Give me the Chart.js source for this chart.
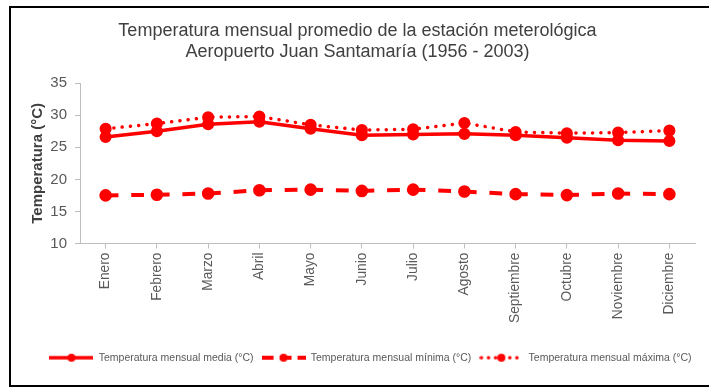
<!DOCTYPE html>
<html>
<head>
<meta charset="utf-8">
<script src="https://cdn.jsdelivr.net/npm/chart.js@4.4.1/dist/chart.umd.min.js"></script>
<style>
  html, body { margin: 0; padding: 0; background: #fff; }
  #wrap { width: 709px; height: 388px; }
</style>
</head>
<body>
<div id="wrap"><canvas id="chart" width="709" height="388"></canvas></div>
<script>
// Monthly temperatures, Juan Santamaría airport station (1956 - 2003)
const months = ['Enero', 'Febrero', 'Marzo', 'Abril', 'Mayo', 'Junio', 'Julio',
  'Agosto', 'Septiembre', 'Octubre', 'Noviembre', 'Diciembre'];
const tempMedia = [26.6, 27.5, 28.6, 29.0, 27.9, 26.9, 27.0, 27.1, 26.9, 26.5, 26.1, 26.0];
const tempMinima = [17.5, 17.6, 17.8, 18.3, 18.4, 18.2, 18.4, 18.1, 17.7, 17.55, 17.8, 17.7];
const tempMaxima = [27.9, 28.7, 29.7, 29.8, 28.5, 27.7, 27.8, 28.8, 27.4, 27.2, 27.3, 27.6];
const seriesLabels = ['Temperatura mensual media (°C)', 'Temperatura mensual mínima (°C)',
  'Temperatura mensual máxima (°C)'];

const RED = '#FF0000';
const GREY = '#595959';
const FONT = "'Liberation Sans', Arial, sans-serif";

// small canvas used as legend symbol: line sample with a marker in the middle
function legendIcon(dash, cap, width) {
  const c = document.createElement('canvas');
  c.width = 44; c.height = 12;
  const g = c.getContext('2d');
  g.strokeStyle = RED;
  g.lineWidth = width;
  g.lineCap = cap;
  g.setLineDash(dash);
  g.beginPath();
  g.moveTo(cap === 'round' ? 2 : 0, 6);
  g.lineTo(44, 6);
  g.stroke();
  g.fillStyle = RED;
  g.beginPath();
  g.arc(22, 6, 4, 0, Math.PI * 2);
  g.fill();
  return c;
}
const icons = [
  legendIcon([], 'butt', 3.5),
  legendIcon([12, 6], 'butt', 4),
  legendIcon([0.1, 7], 'round', 3.5)
];

const frame = {
  id: 'frame',
  afterLayout(chart) {
    // legend sits a bit right of centre in the original
    chart.legend.left += 13;
    chart.legend.right += 13;
  },
  beforeDraw(chart) {
    const ctx = chart.ctx;
    ctx.save();
    ctx.fillStyle = '#fff';
    ctx.fillRect(0, 0, chart.width, chart.height);
    ctx.strokeStyle = '#000';
    ctx.lineWidth = 2;
    ctx.strokeRect(10, 7, 720, 379);
    ctx.restore();
  }
};

const ctx = document.getElementById('chart').getContext('2d');
new Chart(ctx, {
  type: 'line',
  data: {
    labels: months,
    datasets: [
      {
        label: seriesLabels[0], data: tempMedia,
        borderColor: RED, backgroundColor: RED, borderWidth: 3.5,
        pointRadius: 4.3, pointBackgroundColor: RED, pointBorderColor: RED
      },
      {
        label: seriesLabels[1], data: tempMinima,
        borderColor: RED, backgroundColor: RED, borderWidth: 4, borderDash: [12.8, 12.8],
        pointRadius: 4.3, pointBackgroundColor: RED, pointBorderColor: RED
      },
      {
        label: seriesLabels[2], data: tempMaxima,
        borderColor: RED, backgroundColor: RED, borderWidth: 3.5,
        borderDash: [0.1, 8.2], borderCapStyle: 'round',
        pointRadius: 4.3, pointBackgroundColor: RED, pointBorderColor: RED
      }
    ]
  },
  options: {
    responsive: false,
    animation: false,
    layout: { padding: { left: 20, right: 14, top: 0, bottom: 15 } },
    plugins: {
      title: {
        display: true,
        text: ['Temperatura mensual promedio de la estación meterológica',
          'Aeropuerto Juan Santamaría (1956 - 2003)'],
        color: '#404040',
        font: { family: FONT, size: 18, weight: 'normal', lineHeight: 1.2 },
        padding: { top: 20, bottom: 20 }
      },
      legend: {
        position: 'bottom',
        labels: {
          usePointStyle: true,
          pointStyleWidth: 44,
          color: GREY,
          font: { family: FONT, size: 10.5 },
          padding: 8,
          generateLabels(chart) {
            return chart.data.datasets.map((ds, i) => ({
              text: ds.label,
              pointStyle: icons[i],
              fillStyle: RED,
              strokeStyle: RED,
              lineWidth: 0,
              fontColor: GREY,
              hidden: false,
              datasetIndex: i
            }));
          }
        }
      },
      tooltip: { enabled: false }
    },
    scales: {
      x: {
        offset: true,
        grid: { display: true, drawOnChartArea: false, drawTicks: true, tickLength: 5, color: '#BFBFBF', offset: false },
        border: { color: '#BFBFBF', width: 1 },
        ticks: {
          color: GREY, font: { family: FONT, size: 13.8 },
          maxRotation: 90, minRotation: 90, padding: 4, autoSkip: false
        },
        afterFit(s) { s.height = 101; }
      },
      y: {
        min: 10, max: 35,
        grid: { display: true, drawOnChartArea: false, drawTicks: true, tickLength: 5, color: '#BFBFBF' },
        border: { color: '#BFBFBF', width: 1 },
        ticks: { stepSize: 5, color: GREY, font: { family: FONT, size: 15 }, padding: 8 },
        title: {
          display: true, text: 'Temperatura (°C)', color: '#404040',
          font: { family: FONT, size: 15, weight: 'bold', lineHeight: 1.2 },
          padding: { top: 9, bottom: 0 }
        },
        afterFit(s) { s.width = 60; }
      }
    }
  },
  plugins: [frame]
});
</script>
</body>
</html>
